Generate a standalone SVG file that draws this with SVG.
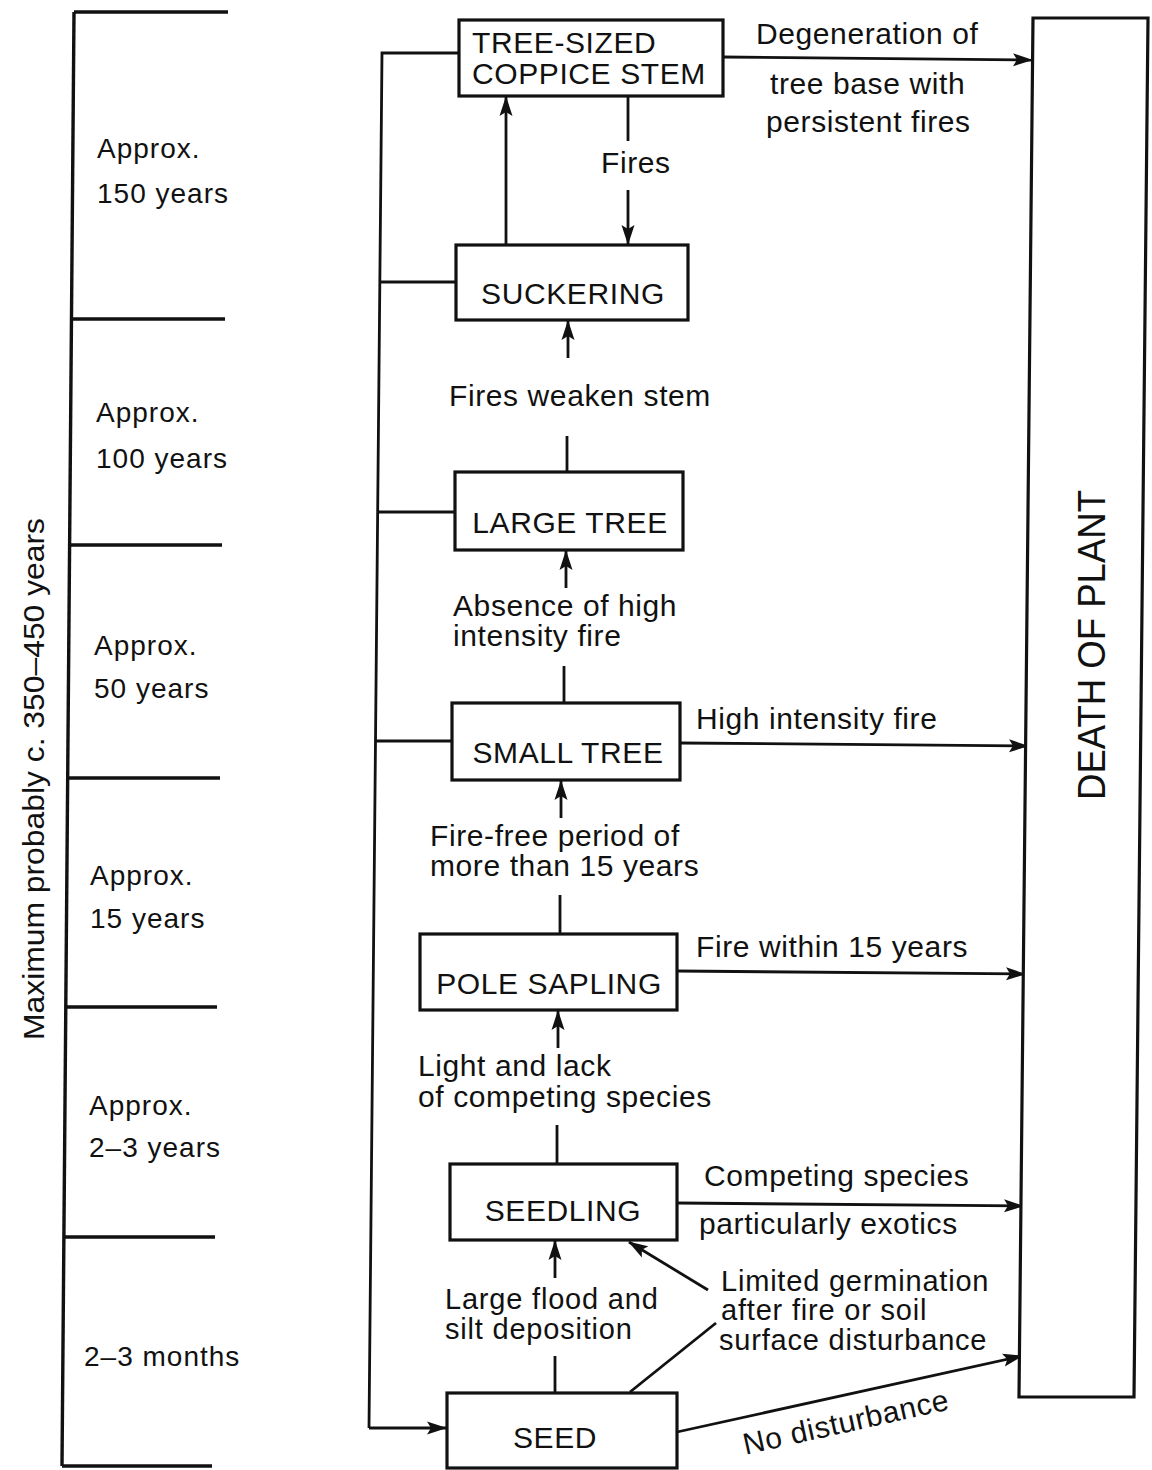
<svg xmlns="http://www.w3.org/2000/svg" width="1152" height="1470" viewBox="0 0 1152 1470">
<defs>
<marker id="ah" markerUnits="userSpaceOnUse" markerWidth="20" markerHeight="14" refX="19" refY="7" orient="auto">
<path d="M0,0.5 L20,7 L0,13.5 L4,7 Z" fill="#111"/>
</marker>
<style>
text{font-family:"Liberation Sans",Arial,sans-serif;fill:#111}
.lbl{font-size:30px;letter-spacing:0.6px}
.sm{font-size:29px;letter-spacing:0.8px}
.box{font-size:30px;letter-spacing:0.6px}
.mid{text-anchor:middle}
.age{font-size:28px;letter-spacing:1px}
.nb{fill:#fff;stroke:#111;stroke-width:3.2}
.ln{fill:none;stroke:#111;stroke-width:2.8}
.tl{fill:none;stroke:#111;stroke-width:3.4}
</style>
</defs>
<rect width="1152" height="1470" fill="#fff"/>

<g id="timeline">
<path class="tl" d="M74,12 L62,1466"/>
<path class="tl" d="M74,12 H228 M71.5,319 H225 M69.5,545 H222 M67.5,778 H220 M65.5,1007 H217 M63.5,1237 H215 M62,1466 H212"/>
<text class="age" x="97" y="158">Approx.</text>
<text class="age" x="97" y="203">150 years</text>
<text class="age" x="96" y="422">Approx.</text>
<text class="age" x="96" y="468">100 years</text>
<text class="age" x="94" y="655">Approx.</text>
<text class="age" x="94" y="698">50 years</text>
<text class="age" x="90" y="885">Approx.</text>
<text class="age" x="90" y="928">15 years</text>
<text class="age" x="89" y="1115">Approx.</text>
<text class="age" x="89" y="1157">2–3 years</text>
<text class="age" x="84" y="1366">2–3 months</text>
<text font-size="30" transform="translate(44,779) rotate(-90)" text-anchor="middle" textLength="522" lengthAdjust="spacingAndGlyphs">Maximum probably c. 350–450 years</text>
</g>

<g id="connectors">
<path class="ln" d="M459,53 H382 L369,1428"/>
<path class="ln" d="M380,282 H456"/>
<path class="ln" d="M377,512 H455"/>
<path class="ln" d="M375,741 H452"/>
<path class="ln" d="M369,1428 H446" marker-end="url(#ah)"/>
<path class="ln" d="M506,245 V97" marker-end="url(#ah)"/>
<path class="ln" d="M628,97 V141"/>
<path class="ln" d="M628,190 V244" marker-end="url(#ah)"/>
<path class="ln" d="M567,472 V436"/>
<path class="ln" d="M568,358 V321" marker-end="url(#ah)"/>
<path class="ln" d="M564,703 V666"/>
<path class="ln" d="M566,588 V551" marker-end="url(#ah)"/>
<path class="ln" d="M560,934 V895"/>
<path class="ln" d="M561,818 V781" marker-end="url(#ah)"/>
<path class="ln" d="M557,1164 V1125"/>
<path class="ln" d="M558,1048 V1011" marker-end="url(#ah)"/>
<path class="ln" d="M555,1392 V1356"/>
<path class="ln" d="M555,1278 V1241" marker-end="url(#ah)"/>
<path class="ln" d="M708,1290 L629,1242" marker-end="url(#ah)"/>
<path class="ln" d="M630,1392 L716,1323"/>
<path class="ln" d="M723,57 L1032,60" marker-end="url(#ah)"/>
<path class="ln" d="M680,743 L1028,746" marker-end="url(#ah)"/>
<path class="ln" d="M677,971 L1025,974" marker-end="url(#ah)"/>
<path class="ln" d="M677,1203 L1023,1206" marker-end="url(#ah)"/>
<path class="ln" d="M677,1432 L1022,1356" marker-end="url(#ah)"/>
<text class="lbl" x="756" y="44">Degeneration of</text>
<text class="lbl" x="770" y="94">tree base with</text>
<text class="lbl" x="766" y="132">persistent fires</text>
<text class="lbl" x="601" y="173">Fires</text>
<text class="lbl" x="449" y="406">Fires weaken stem</text>
<text class="lbl" x="453" y="616">Absence of high</text>
<text class="lbl" x="453" y="646">intensity fire</text>
<text class="lbl" x="696" y="729">High intensity fire</text>
<text class="lbl" x="430" y="846">Fire-free period of</text>
<text class="lbl" x="430" y="876">more than 15 years</text>
<text class="lbl" x="696" y="957">Fire within 15 years</text>
<text class="lbl" x="418" y="1076">Light and lack</text>
<text class="lbl" x="418" y="1107">of competing species</text>
<text class="lbl" x="704" y="1186">Competing species</text>
<text class="lbl" x="699" y="1234">particularly exotics</text>
<text class="sm" x="445" y="1309">Large flood and</text>
<text class="sm" x="445" y="1339">silt deposition</text>
<text class="sm" x="721" y="1291">Limited germination</text>
<text class="sm" x="721" y="1320">after fire or soil</text>
<text class="sm" x="719" y="1350">surface disturbance</text>
<text class="lbl mid" transform="translate(848,1432) rotate(-12.5)">No disturbance</text>
</g>

<g id="node-coppice">
<rect class="nb" x="459" y="20" width="264" height="76"/>
<text class="box" x="472" y="53">TREE-SIZED</text>
<text class="box" x="472" y="84">COPPICE STEM</text>
</g>
<g id="node-suckering">
<rect class="nb" x="456" y="245" width="232" height="75"/>
<text class="box mid" x="573" y="304">SUCKERING</text>
</g>
<g id="node-large-tree">
<rect class="nb" x="455" y="472" width="228" height="78"/>
<text class="box mid" x="570" y="533">LARGE TREE</text>
</g>
<g id="node-small-tree">
<rect class="nb" x="452" y="703" width="228" height="77"/>
<text class="box mid" x="568" y="763">SMALL TREE</text>
</g>
<g id="node-pole-sapling">
<rect class="nb" x="420" y="934" width="257" height="76"/>
<text class="box mid" x="549" y="994">POLE SAPLING</text>
</g>
<g id="node-seedling">
<rect class="nb" x="450" y="1164" width="227" height="76"/>
<text class="box mid" x="563" y="1221">SEEDLING</text>
</g>
<g id="node-seed">
<rect class="nb" x="447" y="1393" width="230" height="75"/>
<text class="box mid" x="555" y="1448">SEED</text>
</g>
<g id="node-death">
<path class="nb" d="M1033,18 L1148,18 L1134,1397 L1019,1397 Z" stroke-width="3.4"/>
<text font-size="38" transform="translate(1105,645) rotate(-90)" text-anchor="middle" textLength="310" lengthAdjust="spacingAndGlyphs">DEATH OF PLANT</text>
</g>
</svg>
